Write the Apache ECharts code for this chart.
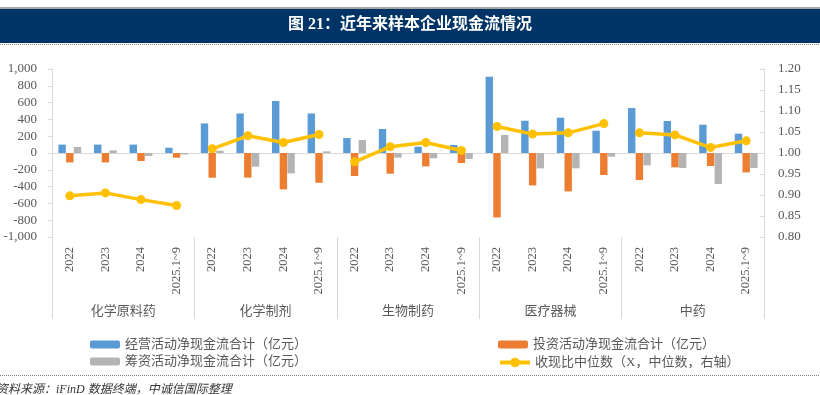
<!DOCTYPE html>
<html><head><meta charset="utf-8">
<script src="https://cdn.jsdelivr.net/npm/echarts@6/dist/echarts.min.js"></script>
<style>html,body{margin:0;padding:0;background:#fff}#c{width:820px;height:395px}</style>
</head><body><div id="c"></div>
<script>
const groups = ['化学原料药', '化学制剂', '生物制药', '医疗器械', '中药'];
const years = ['2022', '2023', '2024', '2025.1~9'];
const operating = [100, 100, 100, 63, 352, 471, 619, 471, 178, 286, 75, 95, 908, 384, 420, 265, 535, 381, 337, 230];
const investing = [-112, -112, -95, -56, -294, -294, -433, -354, -274, -246, -159, -119, -767, -386, -457, -262, -322, -171, -155, -231];
const financing = [72, 31, -36, -17, 27, -163, -243, 20, 155, -56, -63, -71, 214, -183, -183, -44, -147, -179, -369, -179];
const ratio = [0.898, 0.905, 0.889, 0.875, 1.010, 1.041, 1.025, 1.044, 0.979, 1.015, 1.025, 1.006, 1.063, 1.045, 1.048, 1.070, 1.048, 1.043, 1.013, 1.029];

const nameOp = '经营活动净现金流合计（亿元）';
const nameInv = '投资活动净现金流合计（亿元）';
const nameFin = '筹资活动净现金流合计（亿元）';
const nameRatio = '收现比中位数（X，中位数，右轴）';

const FONT = '"Liberation Serif", "Noto Sans CJK SC", serif';
const GREY = '#595959';
const categories = [];
groups.forEach(() => years.forEach(y => categories.push(y)));

const lineSeries = groups.map((g, gi) => ({
  name: nameRatio, type: 'line', xAxisIndex: 0, yAxisIndex: 1, z: 5,
  data: ratio.map((v, i) => (Math.floor(i / years.length) === gi ? v : null)),
  connectNulls: false,
  symbol: 'circle', symbolSize: 9, showSymbol: true,
  lineStyle: { color: '#FFC000', width: 3.5 },
  itemStyle: { color: '#FFC000' }
}));

const legendText = { fontSize: 13, color: GREY, fontFamily: FONT };
const chart = echarts.init(document.getElementById('c'), null, { renderer: 'canvas' });
chart.setOption({
  animation: false,
  textStyle: { fontFamily: FONT },
  grid: { left: 52, right: 56, top: 69, bottom: 158 },
  legend: [
    { left: 85, top: 333, orient: 'vertical', itemGap: 4, itemWidth: 30, itemHeight: 8,
      data: [nameOp, nameFin], textStyle: legendText },
    { left: 493, top: 333, orient: 'vertical', itemWidth: 30, itemHeight: 8,
      data: [nameInv], textStyle: legendText },
    { left: 493, top: 351, orient: 'vertical', itemWidth: 30, itemHeight: 12,
      data: [{ name: nameRatio, lineStyle: { width: 4 } }], textStyle: legendText }
  ],
  xAxis: [
    { type: 'category', data: categories, position: 'bottom', boundaryGap: true,
      axisLine: { show: false, onZero: false }, axisTick: { show: false },
      axisLabel: { interval: 0, rotate: 90, margin: 10, fontSize: 12.5, color: GREY, fontFamily: FONT } },
    { type: 'category', data: groups, position: 'bottom', boundaryGap: true,
      axisLine: { show: false, onZero: false },
      axisTick: { show: true, length: 82, interval: 0, lineStyle: { color: '#d9d9d9' } },
      axisLabel: { interval: 0, margin: 68, fontSize: 13, color: GREY, fontFamily: FONT } },
    { type: 'category', data: categories, position: 'bottom', boundaryGap: true,
      axisLine: { show: true, onZero: true, onZeroAxisIndex: 0, lineStyle: { color: '#d9d9d9', width: 1 } },
      axisTick: { show: false }, axisLabel: { show: false } }
  ],
  yAxis: [
    { type: 'value', min: -1000, max: 1000, interval: 200, position: 'left',
      axisLine: { show: true, lineStyle: { color: '#d9d9d9' } },
      axisTick: { show: true, length: 4, lineStyle: { color: '#d9d9d9' } },
      splitLine: { show: false },
      axisLabel: { margin: 15, fontSize: 13, color: GREY, fontFamily: FONT,
        formatter: v => (v < 0 ? '-' : '') + Math.abs(v).toLocaleString('en-US') } },
    { type: 'value', min: 0.8, max: 1.2, interval: 0.05, position: 'right',
      axisLine: { show: true, lineStyle: { color: '#d9d9d9' } },
      axisTick: { show: true, inside: true, length: 4, lineStyle: { color: '#d9d9d9' } },
      splitLine: { show: false },
      axisLabel: { margin: 14, fontSize: 13, color: GREY, fontFamily: FONT,
        formatter: v => v.toFixed(2) } }
  ],
  series: [
    { name: nameOp, type: 'bar', xAxisIndex: 0, yAxisIndex: 0, data: operating,
      barWidth: 7.4, barGap: '4%', itemStyle: { color: '#5B9BD5' } },
    { name: nameInv, type: 'bar', xAxisIndex: 0, yAxisIndex: 0, data: investing,
      barWidth: 7.4, barGap: '4%', itemStyle: { color: '#ED7D31' } },
    { name: nameFin, type: 'bar', xAxisIndex: 0, yAxisIndex: 0, data: financing,
      barWidth: 7.4, barGap: '4%', itemStyle: { color: '#B4B4B4' } },
    ...lineSeries
  ],
  graphic: [
    { type: 'rect', left: 0, top: 7, shape: { width: 820, height: 2 }, style: { fill: '#a6a6a6' }, silent: true },
    { type: 'rect', left: 0, top: 9, shape: { width: 820, height: 34 }, style: { fill: '#003366' }, silent: true },
    { type: 'text', left: 'center', top: 17, silent: true,
      style: { text: '图 21：近年来样本企业现金流情况', fill: '#ffffff', fontSize: 16, fontWeight: 'bold', fontFamily: FONT } },
    { type: 'line', silent: true, shape: { x1: 0, y1: 44.5, x2: 820, y2: 44.5 },
      style: { stroke: '#8c8c8c', lineWidth: 1, lineDash: [1, 1] } },
    { type: 'line', silent: true, shape: { x1: 0, y1: 375.5, x2: 820, y2: 375.5 },
      style: { stroke: '#7f7f7f', lineWidth: 1, lineDash: [1, 1] } },
    { type: 'text', left: -4, top: 384, silent: true,
      style: { text: '资料来源：iFinD 数据终端，中诚信国际整理', fill: '#333333', fontSize: 12, fontStyle: 'italic', fontFamily: FONT } }
  ]
});
</script></body></html>
